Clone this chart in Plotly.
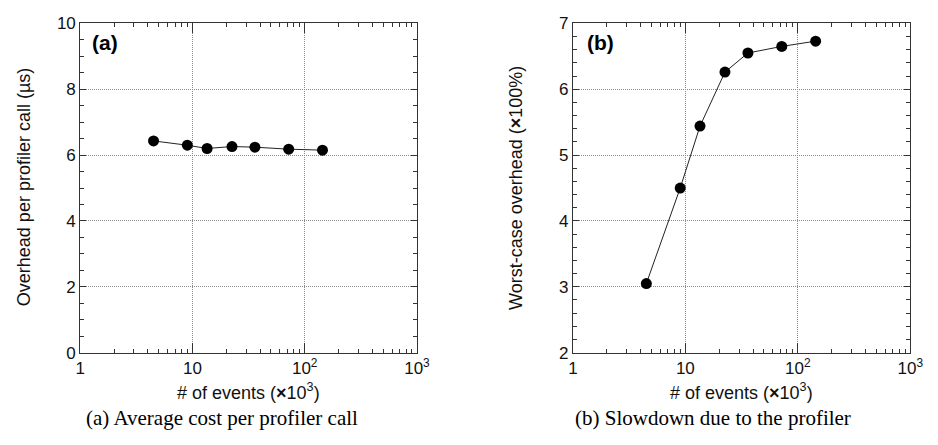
import plotly.graph_objects as go

# Number of profiled events (thousands)
events_k = [4.5, 9, 13.5, 22.5, 36, 72, 144]
# (a) average overhead per profiler call, microseconds
cost_us = [6.43, 6.30, 6.20, 6.26, 6.24, 6.18, 6.15]
# (b) worst-case overhead (x100%)
slowdown = [3.05, 4.50, 5.44, 6.26, 6.55, 6.65, 6.73]

x_tickvals = [1, 10, 100, 1000]
x_ticktext = ["1", "10", "10<sup>2</sup>", "10<sup>3</sup>"]
x_minor = [m * d for d in (1, 10, 100) for m in range(2, 10)]

W, H = 938, 445
SANS = "Liberation Sans"
SERIF = "Liberation Serif"
INK = "#111111"
FRAME = "#333333"


def px(x):
    return x / W


def py(y):
    return (H - y) / H


fig = go.Figure()

series_style = dict(
    mode="lines+markers",
    line=dict(color="#222222", width=1),
    marker=dict(color="black", size=11),
)
fig.add_trace(go.Scatter(x=events_k, y=cost_us, xaxis="x", yaxis="y", **series_style))
fig.add_trace(go.Scatter(x=events_k, y=slowdown, xaxis="x2", yaxis="y2", **series_style))

plot_bottom, plot_top = py(359), py(15)
tick_font = dict(family=SANS, size=17, color=INK)


def x_axis(domain, anchor):
    return dict(
        type="log", range=[0, 3], domain=domain, anchor=anchor,
        showline=True, linecolor=FRAME, mirror="ticks",
        ticks="inside", ticklen=10, tickwidth=1, tickcolor=FRAME,
        tickmode="array", tickvals=x_tickvals, ticktext=x_ticktext,
        tickfont=tick_font,
        showgrid=True, gridcolor="#8a8a8a", griddash="1px,1px",
        minor=dict(ticks="inside", ticklen=4, tickwidth=1, tickcolor=FRAME,
                   tickmode="array", tickvals=x_minor),
    )


def y_axis(rng, major, minor_step, anchor):
    return dict(
        range=rng, dtick=major, domain=[plot_bottom, plot_top], anchor=anchor,
        showline=True, linecolor=FRAME, mirror="ticks",
        ticks="inside", ticklen=6, tickwidth=1, tickcolor=FRAME,
        tickfont=tick_font,
        showgrid=True, gridcolor="#8a8a8a", griddash="1px,1px",
        minor=dict(ticks="inside", ticklen=4, tickwidth=1, tickcolor=FRAME,
                   dtick=minor_step),
    )


fig.update_layout(
    width=W,
    height=H,
    margin=dict(l=0, r=0, t=0, b=0),
    plot_bgcolor="white",
    showlegend=False,
    xaxis=x_axis([px(76.7), px(420)], "y"),
    yaxis=y_axis([0, 10], 2, 0.5, "x"),
    xaxis2=x_axis([px(579), px(923)], "y2"),
    yaxis2=y_axis([2, 7], 1, 0.2, "x2"),
)

title_font = dict(family=SANS, size=18, color=INK)
caption_font = dict(family=SERIF, size=21, color="black")
panel_font = dict(family=SANS, size=21, color="black")

annotations = [
    # axis titles
    dict(text="# of events (<b>\u00d7</b>10<sup>3</sup>)", x=px(248), y=py(400),
         font=title_font),
    dict(text="# of events (<b>\u00d7</b>10<sup>3</sup>)", x=px(751), y=py(400),
         font=title_font),
    dict(text="Overhead per profiler call (\u00b5s)", x=px(19.5), y=py(186),
         textangle=-90, font=title_font),
    dict(text="Worst-case overhead (<b>\u00d7</b>100%)", x=px(521), y=py(187),
         textangle=-90, font=title_font),
    # sub-figure captions
    dict(text="(a) Average cost per profiler call", x=px(221), y=py(427),
         font=caption_font),
    dict(text="(b) Slowdown due to the profiler", x=px(722), y=py(427),
         font=caption_font),
    # panel tags
    dict(text="<b>(a)</b>", x=px(87), y=py(35), xanchor="left", font=panel_font),
    dict(text="<b>(b)</b>", x=px(591), y=py(35), xanchor="left", font=panel_font),
]
for a in annotations:
    a.setdefault("xanchor", "center")
    a.setdefault("yanchor", "middle")
    fig.add_annotation(xref="paper", yref="paper", showarrow=False, **a)

fig.write_html("out.html")
